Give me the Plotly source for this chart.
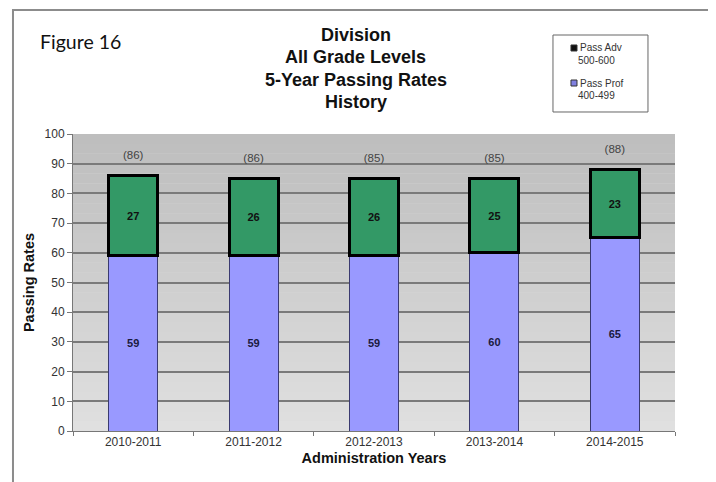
import plotly.graph_objects as go

years = ["2010-2011", "2011-2012", "2012-2013", "2013-2014", "2014-2015"]
pass_prof = [59, 59, 59, 60, 65]
pass_adv = [27, 26, 26, 25, 23]
total_labels = [86, 86, 85, 85, 88]
y_ticks = [0, 10, 20, 30, 40, 50, 60, 70, 80, 90, 100]
title_lines = ["Division", "All Grade Levels", "5-Year Passing Rates", "History"]
legend_items = [("Pass Adv", "500-600", "#111111"), ("Pass Prof", "400-499", "#8080e0")]

totals = [a + b for a, b in zip(pass_prof, pass_adv)]

fig = go.Figure()
fig.add_trace(go.Bar(
    x=years, y=pass_prof, name="Pass Prof 400-499", showlegend=False,
    marker=dict(color="#9999ff", line=dict(color="#3a3a70", width=1)),
    text=[str(v) for v in pass_prof], textposition="inside", insidetextanchor="middle",
    textfont=dict(family="Arial", size=11, color="#1a1a40", weight="bold"),
    textangle=0,
))
fig.add_trace(go.Bar(
    x=years, y=pass_adv, name="Pass Adv 500-600", showlegend=False,
    marker=dict(color="#339966", line=dict(color="#000000", width=3)),
    text=[str(v) for v in pass_adv], textposition="inside", insidetextanchor="middle",
    textfont=dict(family="Arial", size=11, color="#111111", weight="bold"),
    textangle=0,
))
fig.add_trace(go.Scatter(
    x=years, y=[t + 6.5 for t in totals], mode="text",
    text=["(%d)" % v for v in total_labels],
    textfont=dict(family="Arial", size=11.5, color="#444444"),
    showlegend=False, hoverinfo="skip",
))

# stepped gray gradient background
shapes = []
n = 30
for i in range(n):
    frac = i / (n - 1)
    c = int(0xe0 - (0xe0 - 0xbe) * frac)
    shapes.append(dict(type="rect", xref="paper", yref="y", x0=0, x1=1,
                       y0=100 * i / n, y1=100 * (i + 1) / n,
                       fillcolor="rgb(%d,%d,%d)" % (c, c, c), line=dict(width=0), layer="below"))
# outer frame
shapes.append(dict(type="rect", xref="paper", yref="paper",
                   x0=-0.0997, x1=1.0598, y0=-0.4, y1=1.4175,
                   line=dict(color="#8c8c8c", width=2), fillcolor="rgba(0,0,0,0)", layer="above"))
# legend box
shapes.append(dict(type="rect", xref="paper", yref="paper",
                   x0=0.7973, x1=0.9551, y0=1.0741, y1=1.3333,
                   line=dict(color="#666666", width=1), fillcolor="white", layer="above"))

annotations = []
title_y = [1.3333, 1.2593, 1.1818, 1.1077]
for txt, yy in zip(title_lines, title_y):
    annotations.append(dict(text="<b>%s</b>" % txt, xref="paper", yref="paper", x=0.470, y=yy,
                            xanchor="center", yanchor="middle", showarrow=False,
                            font=dict(family="Arial", size=18, color="#111111")))
annotations.append(dict(text="Figure 16", xref="paper", yref="paper", x=-0.0581, y=1.3098,
                        xanchor="left", yanchor="middle", showarrow=False,
                        font=dict(family="Lato", size=19.5, color="#111111")))

leg_sq_y = [1.2896, 1.1717]
leg_sub_y = [1.2458, 1.1313]
for (name, rng, col), sy, suby in zip(legend_items, leg_sq_y, leg_sub_y):
    shapes.append(dict(type="rect", xref="paper", yref="paper",
                       x0=0.8272, x1=0.8372, y0=sy - 0.0101, y1=sy + 0.0101,
                       line=dict(color="#333333", width=1), fillcolor=col, layer="above"))
    annotations.append(dict(text=name, xref="paper", yref="paper", x=0.8389, y=sy,
                            xanchor="left", yanchor="middle", showarrow=False,
                            font=dict(family="Arial", size=10, color="#333333")))
    annotations.append(dict(text=rng, xref="paper", yref="paper", x=0.8704, y=suby,
                            xanchor="center", yanchor="middle", showarrow=False,
                            font=dict(family="Arial", size=10, color="#333333")))

fig.update_layout(
    width=708, height=474,
    margin=dict(l=65, r=41, t=126, b=51),
    paper_bgcolor="white", plot_bgcolor="#d8d8d8",
    barmode="stack", bargap=0.593,
    shapes=shapes, annotations=annotations, showlegend=False,
    font=dict(family="Arial", color="#222222"),
    xaxis=dict(title=dict(text="<b>Administration Years</b>", font=dict(size=14.5, color="#111111"), standoff=4),
               tickfont=dict(size=12, color="#333333"), showline=True, linecolor="#777777",
               ticks="outside", tickson="boundaries", ticklen=4, tickcolor="#777777",
               range=[-0.5, 4.5]),
    yaxis=dict(title=dict(text="<b>Passing Rates</b>", font=dict(size=14.5, color="#111111"), standoff=6),
               tickvals=y_ticks, range=[0, 100], tickfont=dict(size=12, color="#333333"),
               showline=True, linecolor="#777777", ticks="outside", ticklen=5, tickcolor="#777777",
               gridcolor="#7a7a7a", gridwidth=1.5, zeroline=False, layer="below traces"),
)

fig.write_html("out.html")
